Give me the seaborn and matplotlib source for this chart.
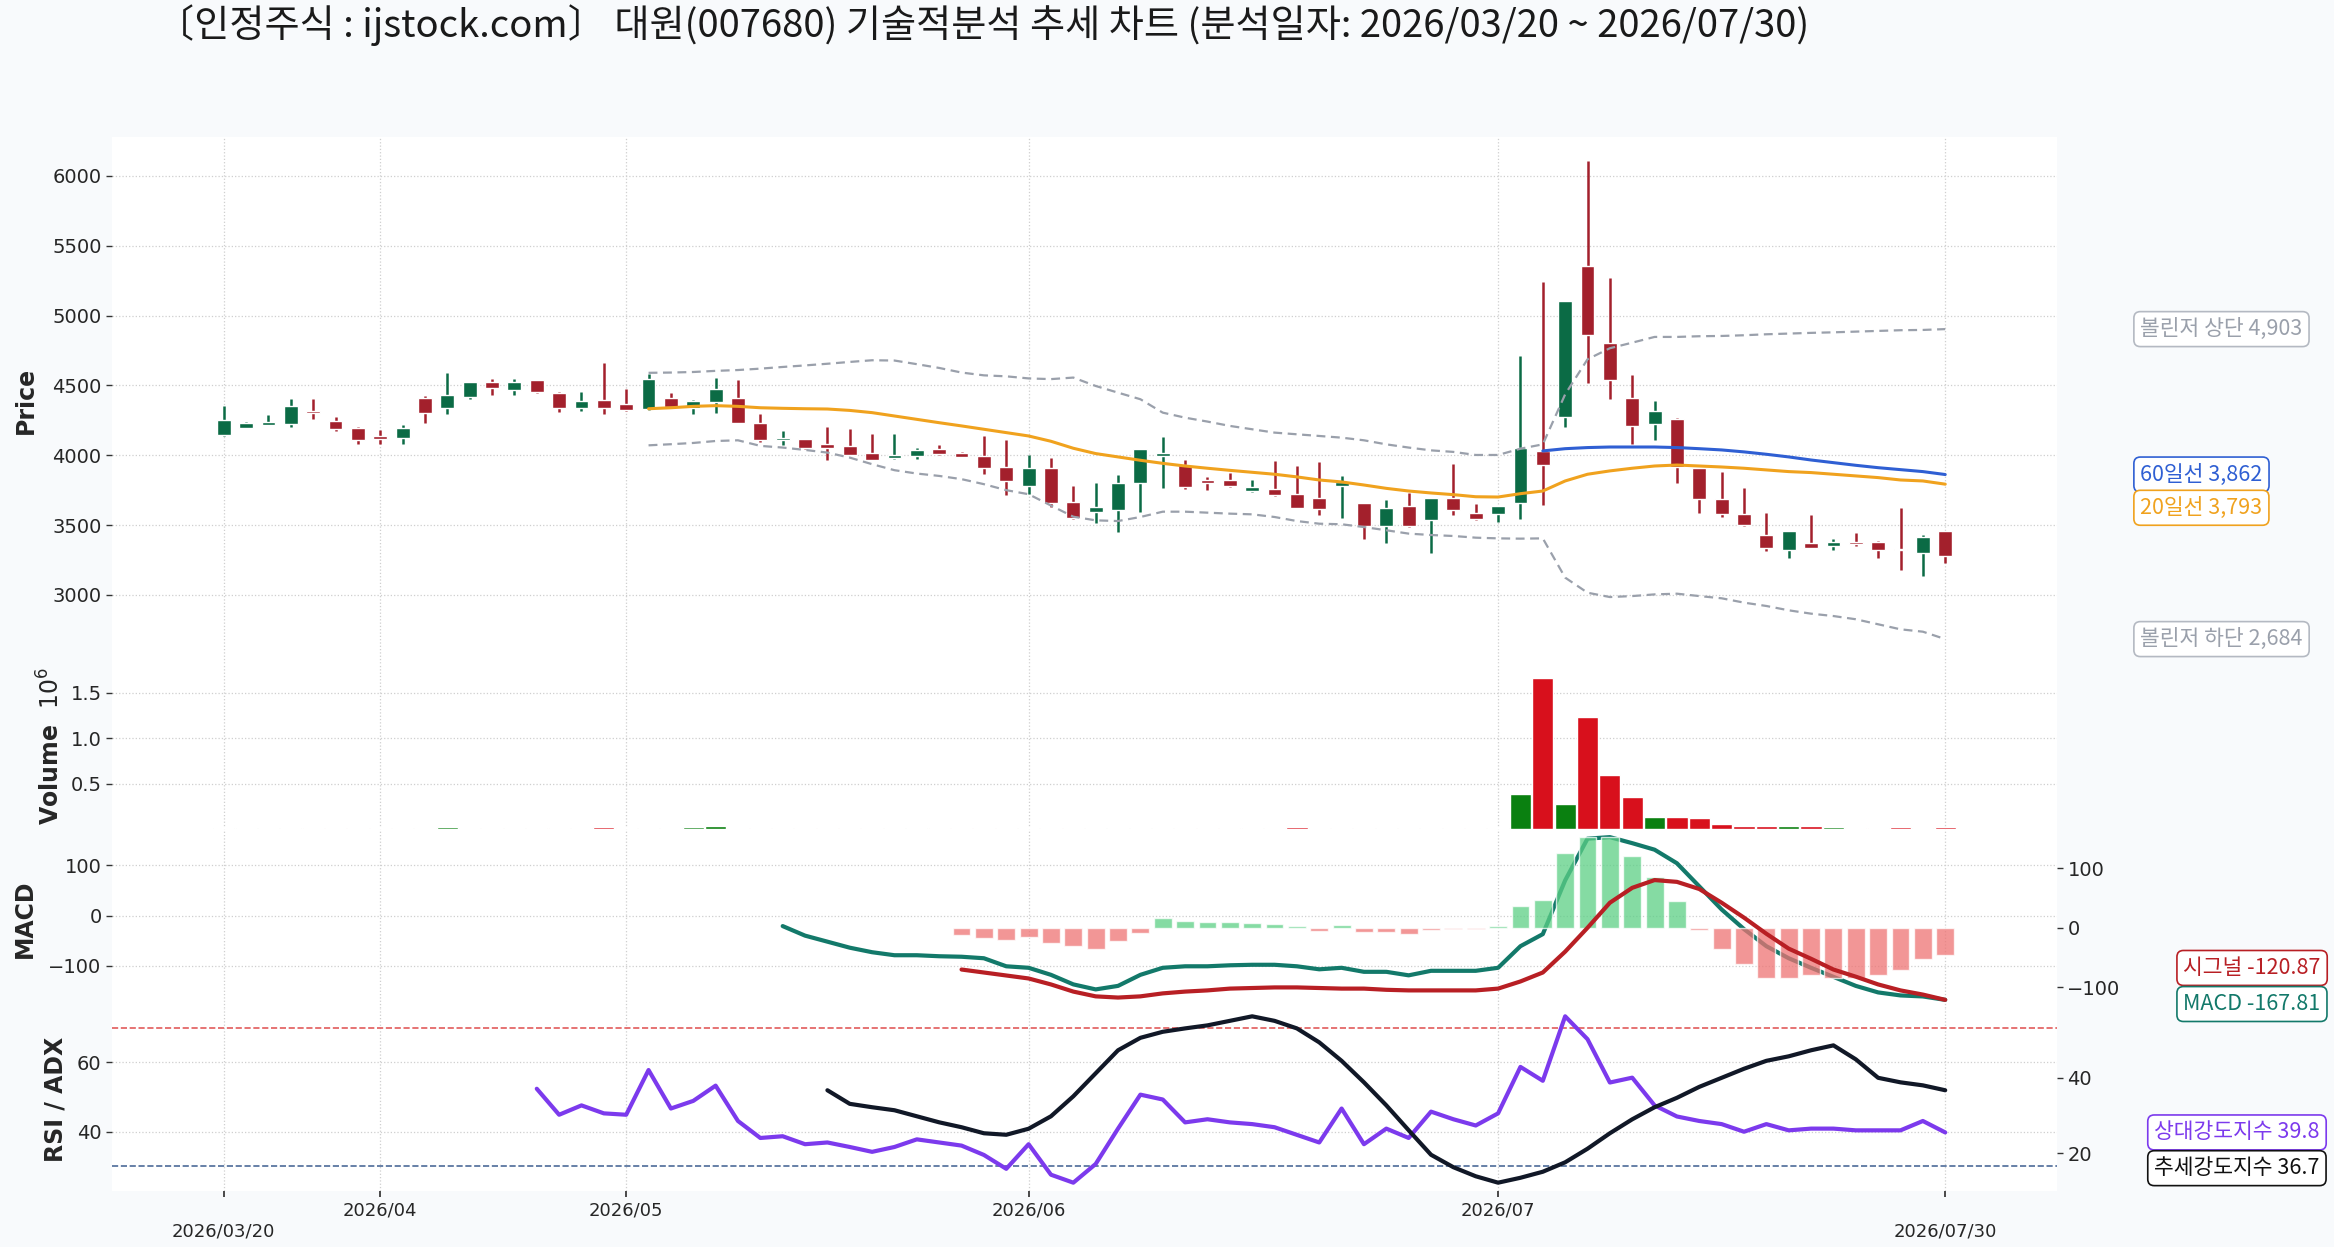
import matplotlib

matplotlib.use("Agg")
import matplotlib.pyplot as plt
import numpy as np
import pandas as pd
import seaborn as sns
from matplotlib.ticker import MaxNLocator

# ---------------------------------------------------------------------------
# values (x = trading-day index 0..77)
# ---------------------------------------------------------------------------
opens = [4145, 4198, 4220, 4226, 4317, 4245, 4198, 4136, 4126, 4407,
         4336, 4419, 4521, 4464, 4536, 4445, 4336, 4393, 4364, 4329,
         4407, 4336, 4379, 4407, 4229, 4107, 4114, 4079, 4064, 4014,
         3979, 3993, 4043, 4014, 3993, 3917, 3779, 3907, 3664, 3596,
         3611, 3799, 3993, 3928, 3821, 3821, 3744, 3756, 3725, 3692,
         3780, 3656, 3496, 3634, 3534, 3692, 3584, 3577, 3656, 4028,
         4277, 5353, 4802, 4408, 4222, 4258, 3907, 3689, 3577, 3427,
         3322, 3374, 3348, 3379, 3381, 3329, 3298, 3455]
highs = [4350, 4240, 4290, 4400, 4400, 4271, 4200, 4180, 4214, 4424,
         4586, 4521, 4545, 4543, 4536, 4452, 4450, 4657, 4471, 4583,
         4445, 4393, 4552, 4536, 4293, 4174, 4117, 4202, 4188, 4155,
         4155, 4050, 4074, 4024, 4136, 4110, 4000, 3981, 3779, 3799,
         3859, 4045, 4131, 3964, 3845, 3873, 3821, 3959, 3923, 3952,
         3852, 3660, 3677, 3730, 3694, 3935, 3649, 3637, 4709, 5241,
         5105, 6107, 5272, 4573, 4389, 4270, 3910, 3880, 3763, 3589,
         3458, 3570, 3398, 3441, 3383, 3620, 3429, 3458]
lows = [4140, 4193, 4215, 4200, 4257, 4174, 4083, 4080, 4083, 4233,
        4293, 4405, 4429, 4429, 4443, 4312, 4314, 4293, 4314, 4325,
        4340, 4298, 4305, 4229, 4098, 4076, 4043, 3964, 4002, 3964,
        3975, 3976, 4005, 3984, 3869, 3714, 3721, 3626, 3546, 3517,
        3453, 3594, 3768, 3761, 3754, 3775, 3740, 3710, 3622, 3573,
        3554, 3403, 3374, 3488, 3303, 3573, 3538, 3525, 3541, 3642,
        4205, 4520, 4405, 4078, 4107, 3804, 3584, 3560, 3495, 3315,
        3262, 3335, 3324, 3350, 3267, 3176, 3136, 3227]
closes = [4250, 4230, 4238, 4350, 4305, 4190, 4107, 4119, 4193, 4305,
          4429, 4521, 4479, 4521, 4450, 4336, 4386, 4336, 4321, 4543,
          4345, 4386, 4471, 4233, 4107, 4121, 4050, 4055, 4005, 3969,
          4000, 4038, 4007, 3986, 3907, 3814, 3910, 3657, 3550, 3630,
          3799, 4043, 4016, 3775, 3804, 3778, 3773, 3713, 3625, 3618,
          3811, 3496, 3620, 3491, 3692, 3606, 3541, 3634, 4050, 3928,
          5102, 4859, 4542, 4207, 4319, 3916, 3685, 3577, 3498, 3338,
          3455, 3338, 3381, 3362, 3322, 3319, 3417, 3279]
volumes = [12000, 9000, 8000, 15000, 7000, 9000, 11000, 8000, 14000, 16000,
           18000, 12000, 9000, 10000, 8000, 12000, 9000, 17000, 10000, 15000,
           11000, 26000, 30000, 12000, 9000, 8000, 10000, 9000, 15000, 10000,
           8000, 9000, 8000, 7000, 12000, 16000, 14000, 15000, 16000, 12000,
           14000, 15000, 16000, 9000, 8000, 8000, 7000, 9000, 18000, 10000,
           9000, 12000, 14000, 13000, 16000, 12000, 9000, 8000, 380000, 1660000,
           270000, 1230000, 590000, 350000, 135000, 130000, 120000, 60000, 35000, 28000,
           38000, 30000, 18000, 12000, 10000, 22000, 16000, 18000]

# indicator lines, each ends on the last trading day
ma20 = [4333, 4340, 4350, 4355, 4350, 4340, 4336, 4333, 4331, 4321,
        4305, 4281, 4257, 4233, 4210, 4186, 4162, 4138, 4100, 4050,
        4012, 3988, 3964, 3942, 3923, 3907, 3892, 3878, 3864, 3845,
        3823, 3809, 3787, 3763, 3744, 3730, 3718, 3703, 3701, 3725,
        3744, 3816, 3864, 3888, 3907, 3923, 3930, 3923, 3916, 3907,
        3895, 3883, 3876, 3864, 3852, 3840, 3823, 3816, 3793]
bb_upper = [4590, 4592, 4596, 4604, 4610, 4620, 4632, 4643, 4655, 4668,
            4680, 4678, 4652, 4625, 4592, 4572, 4565, 4550, 4545, 4556,
            4496, 4448, 4401, 4305, 4269, 4241, 4210, 4186, 4162, 4150,
            4138, 4126, 4107, 4078, 4055, 4035, 4024, 4002, 4002, 4047,
            4078, 4436, 4687, 4766, 4806, 4847, 4847, 4852, 4854, 4859,
            4866, 4871, 4876, 4880, 4885, 4890, 4895, 4897, 4903]
bb_lower = [4071, 4079, 4088, 4102, 4107, 4067, 4055, 4038, 4019, 3983,
            3936, 3893, 3869, 3852, 3829, 3793, 3750, 3721, 3640, 3560,
            3534, 3529, 3558, 3596, 3596, 3589, 3582, 3577, 3558, 3529,
            3510, 3506, 3486, 3463, 3439, 3429, 3422, 3410, 3405, 3403,
            3405, 3124, 3016, 2985, 2992, 3004, 3009, 2992, 2976, 2945,
            2921, 2890, 2866, 2849, 2826, 2790, 2754, 2737, 2684]
ma60 = [4031, 4047, 4055, 4059, 4059, 4059, 4055, 4047, 4038, 4024,
        4007, 3988, 3966, 3947, 3928, 3911, 3897, 3883, 3862]
macd = [-21, -40, -52, -64, -73, -79, -79, -81, -82, -85,
        -101, -104, -118, -137, -147, -140, -118, -104, -101, -101,
        -99, -98, -98, -101, -107, -104, -112, -112, -119, -110,
        -110, -110, -104, -61, -37, 70, 153, 156, 144, 131,
        104, 58, 12, -27, -61, -85, -104, -122, -140, -153,
        -159, -161, -167.81]
signal = [-70, -75, -80, -85, -95, -107, -115, -117, -115, -110,
          -107, -105, -102, -101, -100, -100, -101, -102, -102, -104,
          -105, -105, -105, -105, -102, -90, -75, -40, 0, 42,
          67, 80, 77, 65, 42, 17, -10, -35, -52, -70,
          -82, -95, -105, -112, -120.87]
hist = [-12, -17, -20, -15, -25, -30, -35, -22, -8, 17,
        12, 10, 10, 8, 7, 3, -5, 5, -7, -7,
        -10, -3, -2, -2, 3, 37, 47, 125, 152, 152,
        120, 85, 45, -3, -35, -60, -85, -85, -80, -85,
        -85, -80, -70, -52, -45]
rsi = [52.4, 44.9, 47.6, 45.3, 44.9, 57.8, 46.7, 48.9, 53.3, 43.1,
       38.2, 38.7, 36.4, 36.9, 35.6, 34.2, 35.6, 37.8, 36.9, 36.0,
       33.3, 29.3, 36.4, 27.6, 25.3, 30.7, 40.9, 50.7, 49.3, 42.7,
       43.6, 42.7, 42.2, 41.3, 39.1, 36.9, 46.7, 36.4, 40.9, 38.2,
       45.8, 43.6, 41.8, 45.3, 58.7, 54.7, 73.3, 66.7, 54.2, 55.6,
       47.6, 44.4, 43.1, 42.2, 40.0, 42.2, 40.4, 40.9, 40.9, 40.4,
       40.4, 40.4, 43.1, 39.8]
adx = [36.7, 33.1, 32.2, 31.4, 29.8, 28.2, 26.9, 25.3, 24.9, 26.5,
       29.8, 35.1, 41.2, 47.3, 50.6, 52.2, 53.1, 53.9, 55.1, 56.3,
       55.1, 53.1, 49.4, 44.5, 38.8, 32.7, 26.1, 19.6, 16.3, 13.9,
       12.2, 13.5, 15.1, 17.6, 21.2, 25.3, 29.0, 32.2, 34.7, 37.6,
       40.0, 42.4, 44.5, 45.7, 47.3, 48.6, 44.9, 40.0, 38.8, 38.0, 36.7]

tick_idx = [0, 7, 18, 36, 57, 77]
tick_labels = ["\n2026/03/20", "2026/04", "2026/05", "2026/06", "2026/07", "\n2026/07/30"]
title = "〔인정주식 : ijstock.com〕 대원(007680) 기술적분석 추세 차트 (분석일자: 2026/03/20 ~ 2026/07/30)"

# ---------------------------------------------------------------------------
df = pd.DataFrame({"open": opens, "high": highs, "low": lows,
                   "close": closes, "volume": volumes})
N = len(df)
x = np.arange(N)


def tail_x(arr):
    return np.arange(N - len(arr), N)


BG = "#f8fafc"
UP, DOWN = "#0b6b45", "#a3202c"
VUP, VDOWN = "#0a8010", "#d8101c"
KR = ["Noto Sans CJK KR", "DejaVu Sans"]

sns.set_theme(style="ticks")
plt.rcParams["font.family"] = ["DejaVu Sans", "Noto Sans CJK KR"]
plt.rcParams["axes.unicode_minus"] = True

fig = plt.figure(figsize=(23.34, 12.47), dpi=100, facecolor=BG)
W_PX, H_PX = 2334, 1247
LEFT, RIGHT = 112, 2057


def box(top, bottom):
    return [LEFT / W_PX, 1 - bottom / H_PX, (RIGHT - LEFT) / W_PX, (bottom - top) / H_PX]


ax_p = fig.add_axes(box(137, 663))
ax_v = fig.add_axes(box(663, 829), sharex=ax_p)
ax_m = fig.add_axes(box(829, 1008), sharex=ax_p)
ax_r = fig.add_axes(box(1008, 1191), sharex=ax_p)
ax_m2 = ax_m.twinx()
ax_r2 = ax_r.twinx()

for ax in (ax_p, ax_v, ax_m, ax_r, ax_m2, ax_r2):
    for s in ax.spines.values():
        s.set_visible(False)
    ax.tick_params(axis="y", labelsize=14, length=4, width=1, color="#333333")
for ax in (ax_p, ax_v, ax_m, ax_r):
    ax.set_facecolor("white")
    ax.grid(True, ls=":", color="#cfcfcf", lw=0.9)
    ax.set_axisbelow(True)
for ax in (ax_m2, ax_r2):
    ax.grid(False)

# --- candles --------------------------------------------------------------
up = df["close"] >= df["open"]
ccol = np.where(up, UP, DOWN)
ax_p.vlines(x, df["low"], df["high"], colors=ccol, lw=1.8, zorder=2)
body = (df["close"] - df["open"]).abs().clip(lower=12)
ax_p.bar(x, body, bottom=np.minimum(df["open"], df["close"]), width=0.62,
         color=ccol, zorder=3)

sns.lineplot(x=tail_x(bb_upper), y=bb_upper, ax=ax_p, color="#9aa0ab", lw=1.6,
             linestyle=(0, (4, 2.5)), zorder=4)
sns.lineplot(x=tail_x(bb_lower), y=bb_lower, ax=ax_p, color="#9aa0ab", lw=1.6,
             linestyle=(0, (4, 2.5)), zorder=4)
sns.lineplot(x=tail_x(ma20), y=ma20, ax=ax_p, color="#f0a21e", lw=2.2, zorder=5)
sns.lineplot(x=tail_x(ma60), y=ma60, ax=ax_p, color="#2f5fd3", lw=2.2, zorder=5)
ax_p.set_ylabel("Price", fontsize=17, fontweight="bold", labelpad=10)

# --- volume ---------------------------------------------------------------
vcol = np.where(up, VUP, VDOWN)
ax_v.bar(x, df["volume"], width=0.95, color=vcol)
ax_v.set_ylim(0, df["volume"].max() * 1.1)
ax_v.yaxis.set_major_locator(MaxNLocator(nbins="auto", steps=[1, 2, 2.5, 5, 10], prune="lower"))
ax_v.yaxis.offsetText.set_visible(False)
ax_v.set_ylabel("Volume  $10^6$", fontsize=17, fontweight="bold")

# --- MACD -----------------------------------------------------------------
hx = tail_x(hist)
hcol = np.where(np.array(hist) >= 0, "#5ccf85", "#ee7373")
ax_m2.bar(hx, hist, width=0.8, color=hcol, alpha=0.75)
sns.lineplot(x=tail_x(macd), y=macd, ax=ax_m, color="#13796a", lw=3)
sns.lineplot(x=tail_x(signal), y=signal, ax=ax_m2, color="#b81f24", lw=3)
ax_m.set_ylabel("MACD", fontsize=17, fontweight="bold", labelpad=8)

# --- RSI / ADX ------------------------------------------------------------
ax_r.axhline(70, color="#e25b5b", ls="--", lw=1.2)
ax_r.axhline(30, color="#4d6b98", ls="--", lw=1.2)
sns.lineplot(x=tail_x(rsi), y=rsi, ax=ax_r, color="#7c3aed", lw=3)
sns.lineplot(x=tail_x(adx), y=adx, ax=ax_r2, color="#111827", lw=3)
ax_r.set_ylabel("RSI / ADX", fontsize=17, fontweight="bold", labelpad=7)

for ax in (ax_p, ax_v, ax_m, ax_r, ax_m2, ax_r2):
    ax.set_xlabel("")
ax_p.set_xlim(-5, N + 4)
ax_r.set_xticks(tick_idx)
ax_r.set_xticklabels(tick_labels, fontsize=13)
ax_r.tick_params(axis="x", length=4, color="#333333")
for ax in (ax_p, ax_v, ax_m, ax_m2):
    ax.tick_params(axis="x", bottom=False, labelbottom=False)
ax_r2.tick_params(axis="x", bottom=False, labelbottom=False)


# --- right-hand value tags -----------------------------------------------
def tag(ax, val, text, color, dx, dy=0, edge=None):
    ax.annotate(text, xy=(1, val), xycoords=ax.get_yaxis_transform(),
                xytext=(dx, dy), textcoords="offset points", ha="left", va="center",
                fontsize=15.5, color=color, family=KR, annotation_clip=False,
                bbox=dict(boxstyle="round,pad=0.3", fc="white", ec=edge or color, lw=1.2))


tag(ax_p, bb_upper[-1], f"볼린저 상단 {bb_upper[-1]:,}", "#9aa0ab", 60, edge="#b4b9c2")
tag(ax_p, ma60[-1], f"60일선 {ma60[-1]:,}", "#2f5fd3", 60)
tag(ax_p, ma20[-1], f"20일선 {ma20[-1]:,}", "#f0a21e", 60, dy=-17)
tag(ax_p, bb_lower[-1], f"볼린저 하단 {bb_lower[-1]:,}", "#9aa0ab", 60, edge="#b4b9c2")
tag(ax_m, signal[-1], f"시그널 {signal[-1]:.2f}", "#b81f24", 91, dy=6)
tag(ax_m, macd[-1], f"MACD {macd[-1]:.2f}", "#13796a", 91, dy=-3)
tag(ax_r, rsi[-1], f"상대강도지수 {rsi[-1]:.1f}", "#7c3aed", 70)
tag(ax_r, adx[-1], f"추세강도지수 {adx[-1]:.1f}", "#111111", 70, dy=-18)

fig.text(156 / W_PX, 1 - 25 / H_PX, title, ha="left", va="center",
         fontsize=27.5, family=KR, color="#1a1a1a")

fig.savefig("out.png", dpi=100, facecolor=BG)
